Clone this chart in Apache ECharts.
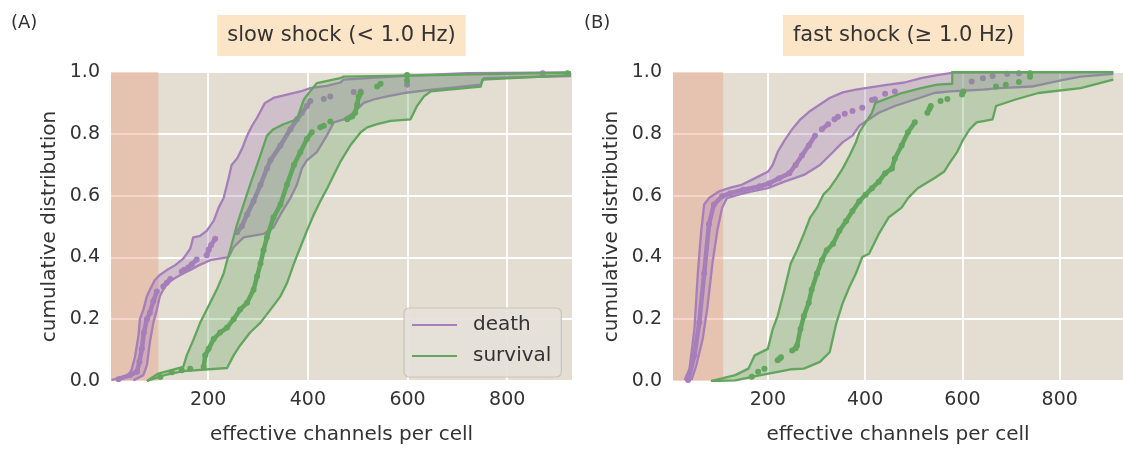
<!DOCTYPE html>
<html>
<head>
<meta charset="utf-8">
<script src="https://cdn.jsdelivr.net/npm/echarts@6/dist/echarts.min.js"></script>
<style>
  html, body { margin: 0; padding: 0; background: #ffffff; }
  #chart { width: 1123px; height: 450px; }
</style>
</head>
<body>
<div id="chart"></div>
<script>
// ---- data: effective channels per cell vs cumulative distribution ----
const panelLetters = ['(A)', '(B)'];
const panelTitles = ['slow shock (< 1.0 Hz)', 'fast shock (\u2265 1.0 Hz)'];
const seriesNames = ['death', 'survival'];
const xTickValues = [200, 400, 600, 800];
const xRange = [5, 930];
const shadeA = [5, 100];
const shadeB = [5, 108];

// slow shock: death band (upper / lower bound) and ECDF points (segments)
const deathUpperA = [[6,0.003],[23,0.011],[40,0.019],[46,0.035],[53,0.077],[60,0.146],[63,0.200],[70,0.231],[77,0.274],[83,0.295],[93,0.327],[103,0.343],[117,0.359],[134,0.375],[150,0.396],[164,0.428],[170,0.465],[184,0.470],[197,0.486],[211,0.518],[221,0.561],[231,0.592],[241,0.656],[247,0.699],[258,0.720],[268,0.752],[278,0.794],[288,0.826],[298,0.852],[314,0.900],[331,0.916],[358,0.927],[385,0.937],[405,0.948],[438,0.955],[465,0.966],[472,0.975],[586,0.987],[720,0.996],[928,0.999]];
const deathLowerA = [[50,0.002],[70,0.019],[77,0.051],[83,0.125],[90,0.189],[97,0.231],[103,0.274],[113,0.306],[127,0.327],[144,0.343],[164,0.359],[182,0.375],[204,0.391],[241,0.401],[251,0.433],[271,0.465],[311,0.476],[331,0.497],[345,0.539],[365,0.592],[378,0.635],[388,0.688],[398,0.714],[418,0.741],[438,0.794],[452,0.837],[472,0.847],[492,0.868],[512,0.900],[532,0.911],[559,0.921],[593,0.932],[640,0.941],[747,0.959],[753,0.980],[928,0.987]];
const deathPointsA = [
  [[20,0.006],[43,0.019],[57,0.030],[62,0.062],[67,0.104],[71,0.157],[77,0.200],[83,0.221],[90,0.258],[97,0.290]],
  [[110,0.306],[117,0.318],[124,0.330]],
  [[147,0.354],[152,0.360]],
  [[160,0.367],[167,0.378],[177,0.393]],
  [[197,0.407],[201,0.425],[206,0.440],[214,0.460]],
  [[258,0.481],[268,0.502],[278,0.539],[291,0.582],[305,0.635],[318,0.688],[325,0.714],[345,0.762],[365,0.815],[378,0.847],[388,0.868],[398,0.890],[405,0.906]],
  [[432,0.913]], [[445,0.921]], [[492,0.935]], [[506,0.937]], [[599,0.959]], [[871,0.996]]
];

// slow shock: survival band and ECDF points
const survUpperA = [[77,0.000],[100,0.024],[150,0.046],[157,0.083],[171,0.136],[184,0.189],[204,0.253],[217,0.295],[231,0.348],[238,0.391],[244,0.423],[258,0.507],[271,0.571],[284,0.635],[298,0.699],[318,0.794],[331,0.815],[351,0.831],[378,0.847],[392,0.911],[402,0.932],[418,0.964],[465,0.980],[472,0.985],[653,0.990],[928,0.998]];
const survLowerA = [[77,0.000],[117,0.021],[150,0.032],[238,0.042],[251,0.083],[264,0.115],[284,0.157],[305,0.189],[325,0.231],[345,0.274],[358,0.316],[372,0.380],[385,0.433],[398,0.486],[412,0.539],[425,0.582],[439,0.624],[452,0.667],[465,0.709],[485,0.762],[506,0.805],[519,0.821],[539,0.831],[566,0.842],[606,0.847],[619,0.890],[633,0.921],[646,0.937],[747,0.953],[750,0.975],[928,0.990]];
const survPointsA = [
  [[104,0.013]], [[127,0.028]], [[147,0.035]], [[164,0.040]],
  [[191,0.046],[194,0.083],[201,0.104],[211,0.136],[224,0.157],[238,0.173],[251,0.200],[264,0.231],[278,0.253],[291,0.295],[298,0.338],[305,0.380],[311,0.423],[318,0.465],[331,0.529],[345,0.571],[358,0.635],[372,0.699],[385,0.741],[398,0.783],[408,0.805]],
  [[425,0.821],[432,0.826]],
  [[445,0.840]],
  [[479,0.847],[489,0.856],[495,0.868],[499,0.895],[502,0.921],[506,0.932]],
  [[539,0.953]], [[546,0.962]],
  [[599,0.972],[599,0.990]],
  [[921,0.996]]
];

// fast shock: death band and ECDF points
const deathUpperB = [[29,0.003],[39,0.040],[49,0.168],[56,0.348],[63,0.486],[69,0.571],[79,0.592],[100,0.614],[123,0.626],[146,0.635],[167,0.651],[187,0.667],[200,0.677],[210,0.699],[220,0.741],[234,0.778],[250,0.815],[267,0.847],[287,0.874],[307,0.895],[327,0.916],[354,0.934],[381,0.943],[414,0.951],[448,0.959],[481,0.966],[515,0.980],[548,0.990],[582,0.998],[910,1.0]];
const deathLowerB = [[43,0.003],[53,0.051],[66,0.136],[76,0.242],[86,0.380],[96,0.486],[106,0.561],[116,0.592],[140,0.603],[167,0.614],[200,0.624],[234,0.645],[274,0.667],[307,0.699],[334,0.741],[354,0.773],[374,0.794],[388,0.826],[408,0.847],[428,0.868],[461,0.890],[502,0.911],[542,0.932],[575,0.937],[642,0.943],[676,0.948],[743,0.953],[776,0.964],[810,0.975],[843,0.985],[910,0.994]];
const deathPointsB = [
  [[36,0.003],[49,0.083],[59,0.189],[69,0.348],[79,0.507],[89,0.571],[106,0.598],[123,0.608],[150,0.619],[183,0.630],[203,0.640],[223,0.656],[244,0.672],[257,0.699],[270,0.730],[284,0.762],[297,0.794]],
  [[311,0.815],[324,0.831]],
  [[337,0.847],[344,0.855]],
  [[358,0.865]], [[374,0.874]], [[394,0.884]],
  [[414,0.909],[420,0.912]],
  [[441,0.930]], [[461,0.937]],
  [[619,0.969]], [[642,0.980]], [[662,0.987]], [[692,0.994]], [[716,0.996]]
];

// fast shock: survival band and ECDF points
const survUpperB = [[83,0.000],[133,0.019],[160,0.040],[173,0.083],[200,0.104],[210,0.168],[220,0.210],[234,0.295],[247,0.380],[260,0.423],[274,0.476],[287,0.529],[301,0.561],[314,0.603],[327,0.624],[341,0.656],[354,0.688],[368,0.730],[381,0.773],[388,0.805],[401,0.837],[414,0.868],[421,0.900],[448,0.916],[475,0.932],[515,0.948],[548,0.959],[579,0.962],[579,1.0],[910,1.0]];
const survLowerB = [[83,0.000],[133,0.002],[180,0.017],[247,0.038],[274,0.040],[307,0.062],[327,0.093],[341,0.189],[354,0.253],[368,0.306],[381,0.348],[394,0.401],[408,0.412],[428,0.476],[448,0.529],[475,0.561],[488,0.592],[508,0.624],[542,0.656],[562,0.677],[575,0.709],[589,0.741],[602,0.783],[615,0.815],[629,0.837],[662,0.847],[669,0.890],[709,0.911],[756,0.932],[843,0.948],[910,0.975]];
const survPointsB = [
  [[167,0.014]], [[180,0.030]], [[193,0.040]],
  [[220,0.067],[224,0.072],[227,0.077]],
  [[250,0.099],[257,0.106],[260,0.115],[267,0.168],[274,0.210],[284,0.253],[290,0.295],[301,0.348],[311,0.391],[321,0.423],[334,0.444],[347,0.486],[361,0.518],[374,0.550],[388,0.582],[401,0.603],[414,0.624],[428,0.645],[441,0.672],[455,0.688],[461,0.720],[475,0.762],[488,0.805],[502,0.837]],
  [[528,0.868],[532,0.880],[535,0.890]],
  [[555,0.906]], [[569,0.913]],
  [[599,0.927],[602,0.937]],
  [[669,0.953]], [[689,0.959]], [[716,0.968]],
  [[739,0.985],[739,0.996]]
];

// ---- styling ----
const FONT = 'DejaVu Sans';
const TEXT = '#333333';
const PURPLE = '#A57EBA';
const GREEN = '#62A65D';
const PURPLE_FILL = 'rgba(165,126,186,0.32)';
const GREEN_FILL = 'rgba(98,166,93,0.30)';
const PLOT_BG = '#E3DDD2';
const SHADE = 'rgba(234,158,132,0.42)';

const W = 1123;
const grids = [
  { left: 111, right: W - 572, top: 72, bottom: 64 },
  { left: 673, right: W - 1134, top: 72, bottom: 64 }
];

const panels = [
  { shade: shadeA, bands: [[deathUpperA, deathLowerA, deathPointsA], [survUpperA, survLowerA, survPointsA]] },
  { shade: shadeB, bands: [[deathUpperB, deathLowerB, deathPointsB], [survUpperB, survLowerB, survPointsB]] }
];
const lineColors = [PURPLE, GREEN];
const fillColors = [PURPLE_FILL, GREEN_FILL];

function bandFill(g, name, upper, lower, fill, z) {
  const poly = upper.concat(lower.slice().reverse());
  return {
    type: 'custom', name: name, xAxisIndex: g, yAxisIndex: g, z: z, silent: true, clip: true,
    data: poly, encode: { x: 0, y: 1 },
    renderItem: function (params, api) {
      if (params.dataIndex !== 0) return null;
      return { type: 'polygon', shape: { points: poly.map(p => api.coord(p)) }, style: { fill: fill } };
    }
  };
}
function edgeLine(g, name, pts, color, z) {
  return {
    type: 'line', name: name, xAxisIndex: g, yAxisIndex: g, z: z, silent: true,
    data: pts, showSymbol: false, symbol: 'none',
    lineStyle: { color: color, width: 2.3, join: 'round' }
  };
}
function pointSeg(g, name, pts, color, z) {
  return {
    type: 'line', name: name, xAxisIndex: g, yAxisIndex: g, z: z, silent: true,
    data: pts, symbol: 'circle', symbolSize: 6, showSymbol: true,
    itemStyle: { color: color, borderWidth: 0 },
    lineStyle: { color: color, width: 4.5, cap: 'round', join: 'round' }
  };
}

const series = [];
panels.forEach((p, g) => {
  series.push({
    type: 'line', xAxisIndex: g, yAxisIndex: g, data: [], z: 1, silent: true,
    markArea: { silent: true, itemStyle: { color: SHADE }, data: [[{ xAxis: p.shade[0] }, { xAxis: p.shade[1] }]] }
  });
  p.bands.forEach((b, k) => {
    const z = 2 + k * 3;
    series.push(bandFill(g, seriesNames[k], b[0], b[1], fillColors[k], z));
    series.push(edgeLine(g, seriesNames[k], b[0], lineColors[k], z + 1));
    series.push(edgeLine(g, seriesNames[k], b[1], lineColors[k], z + 1));
    b[2].forEach(seg => series.push(pointSeg(g, seriesNames[k], seg, lineColors[k], z + 2)));
  });
});

const xAxes = grids.map((_, g) => ({
  gridIndex: g, type: 'value', min: xRange[0], max: xRange[1],
  name: 'effective channels per cell', nameLocation: 'middle', nameGap: 44,
  nameTextStyle: { fontFamily: FONT, fontSize: 20, color: TEXT },
  axisLine: { show: false },
  axisTick: { show: false, customValues: xTickValues },
  axisLabel: { customValues: xTickValues, fontFamily: FONT, fontSize: 19, color: TEXT, margin: 10 },
  splitLine: { show: true, lineStyle: { color: '#ffffff', width: 1.8 } }
}));
const yAxes = grids.map((_, g) => ({
  gridIndex: g, type: 'value', min: 0, max: 1, interval: 0.2,
  name: 'cumulative distribution', nameLocation: 'middle', nameGap: 51,
  nameTextStyle: { fontFamily: FONT, fontSize: 20, color: TEXT },
  axisLine: { show: false }, axisTick: { show: false },
  axisLabel: { fontFamily: FONT, fontSize: 19, color: TEXT, margin: 11, formatter: v => v.toFixed(1) },
  splitLine: { show: true, lineStyle: { color: '#ffffff', width: 1.8 } }
}));

const graphic = [];
grids.forEach((gr, g) => {
  const cx = (gr.left + (W - gr.right)) / 2;
  graphic.push({
    type: 'text', x: cx, y: 35.5, silent: true,
    style: {
      text: panelTitles[g], font: '21px "' + FONT + '"', fill: TEXT,
      align: 'center', verticalAlign: 'middle', lineHeight: 22,
      backgroundColor: '#FCE4C6', padding: [9.5, 10]
    }
  });
  graphic.push({
    type: 'text', x: g === 0 ? 11 : 584, y: 23, silent: true,
    style: { text: panelLetters[g], font: '18px "' + FONT + '"', fill: TEXT, align: 'left', verticalAlign: 'middle' }
  });
});

const chart = echarts.init(document.getElementById('chart'), null, { renderer: 'canvas' });
chart.setOption({
  animation: false,
  backgroundColor: '#ffffff',
  textStyle: { fontFamily: FONT },
  grid: grids.map(gr => Object.assign({ show: true, backgroundColor: PLOT_BG, borderWidth: 0 }, gr)),
  xAxis: xAxes,
  yAxis: yAxes,
  legend: {
    data: [
      { name: seriesNames[0], itemStyle: { color: PURPLE } },
      { name: seriesNames[1], itemStyle: { color: GREEN } }
    ],
    orient: 'vertical', left: 404, top: 308,
    icon: 'rect', itemWidth: 45, itemHeight: 2.2, itemGap: 9,
    padding: [6, 10, 10, 8],
    backgroundColor: 'rgba(229,225,217,0.92)', borderColor: 'rgba(196,192,186,0.9)', borderWidth: 1.2, borderRadius: 5,
    selectedMode: false,
    textStyle: { fontFamily: FONT, fontSize: 20, lineHeight: 22, color: TEXT, padding: [0, 0, 0, 11] }
  },
  graphic: graphic,
  series: series
});
</script>
</body>
</html>
